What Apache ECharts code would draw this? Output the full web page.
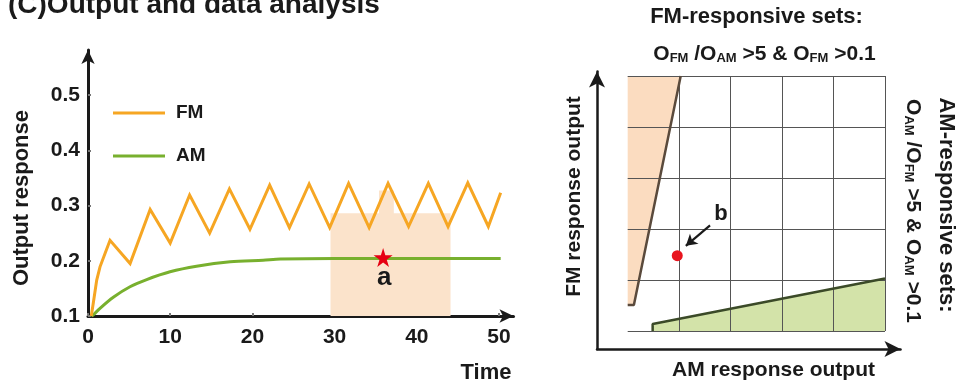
<!DOCTYPE html>
<html><head><meta charset="utf-8">
<script src="https://cdn.jsdelivr.net/npm/echarts@6/dist/echarts.min.js"></script>
<style>html,body{margin:0;padding:0;background:#fff}#c{width:961px;height:383px}</style>
</head><body><div id="c"></div>
<script>
// ---- Left panel data ----
const timeFM  = [0.4,0.64,1.06,1.46,2.07,2.68,5.12,7.56,10.0,12.36,14.8,17.2,19.7,22.1,24.5,26.9,29.4,31.7,34.2,36.5,39.0,41.4,43.8,46.2,48.7,50.2];
const valueFM = [0.1,0.123,0.165,0.189,0.213,0.237,0.195,0.293,0.232,0.319,0.250,0.330,0.257,0.337,0.260,0.339,0.260,0.340,0.260,0.340,0.262,0.340,0.262,0.341,0.262,0.323];
const timeAM  = [0.4,0.64,1.46,3.08,5.11,7.14,9.98,13.2,17.3,21.3,23.4,30,40,50.2];
const valueAM = [0.1,0.102,0.114,0.134,0.153,0.166,0.180,0.190,0.198,0.201,0.203,0.204,0.204,0.204];
const xTicks = [0,10,20,30,40,50];
const yTicks = [0.1,0.2,0.3,0.4,0.5];
const shadeStart = [29.5, 35.4];
const shadeEnd   = [44.1, 37.2];
const shadeTop   = [0.286, 0.327];
const starPoint = [35.9, 0.206];
// ---- Right panel data ----
const fmRegionX = [0, 0.12, 1.03, 0];
const fmRegionY = [0.51, 0.51, 5, 5];
const fmBorderX = [0, 0.12, 1.03];
const fmBorderY = [0.51, 0.51, 5];
const amRegionX = [0.485, 0.485, 5, 5];
const amRegionY = [0, 0.137, 1.03, 0];
const amBorderX = [0.485, 0.485, 5];
const amBorderY = [0, 0.137, 1.03];
const pointB = [0.963, 1.476];
const arrowFrom = [1.60, 2.07];
const arrowTo = [1.13, 1.67];

const FONT = 'Liberation Sans';
const ink = '#1a1a1a';
const chart = echarts.init(document.getElementById('c'), null, {renderer:'canvas'});

function zip(xs, ys){ return xs.map((x,i)=>[x, ys[i]]); }
function polySeries(xs, ys, color, z){
  return {type:'custom', xAxisIndex:1, yAxisIndex:1, z:z, silent:true, data:[[xs[0], ys[0]]],
    renderItem:function(params, api){
      return {type:'polygon', shape:{points: xs.map((x,i)=>api.coord([x, ys[i]]))}, style:{fill:color}};
    }};
}
function txt(text, x, y, size, rot, align){
  const a = align || 'center';
  return {type:'text', x:x, y:y, rotation:rot||0, silent:true,
    style:{text:text, fontSize:size, fontWeight:'bold', fontFamily:FONT, fill:ink,
      align:a, verticalAlign:'middle', textAlign:a, textVerticalAlign:'middle'}};
}
const rich = {
  b:{fontSize:21, fontWeight:'bold', fontFamily:FONT, color:ink, verticalAlign:'bottom', lineHeight:22},
  s:{fontSize:13, fontWeight:'bold', fontFamily:FONT, color:ink, verticalAlign:'bottom', lineHeight:19}
};
function richTxt(text, x, y, rot){
  return {type:'text', x:x, y:y, rotation:rot||0, silent:true,
    style:{text:text, rich:rich, fontSize:21, fontWeight:'bold', fontFamily:FONT, fill:ink,
      align:'center', verticalAlign:'middle', textAlign:'center', textVerticalAlign:'middle'}};
}
const starPath = 'path://M50,0 L61.2,34.5 L97.6,34.5 L68.2,55.9 L79.4,90.5 L50,69.1 L20.6,90.5 L31.8,55.9 L2.4,34.5 L38.8,34.5 Z';

const option = {
  animation:false,
  backgroundColor:'#fff',
  grid:[
    {left:88, top:50, width:425.5, height:266},
    {left:627.7, top:76, width:257.3, height:255},
    {left:597, top:71.5, width:303.5, height:277.5}
  ],
  legend:{
    data:['FM','AM'], orient:'vertical', left:108, top:98, itemWidth:52, itemHeight:3, icon:'rect', itemGap:23,
    textStyle:{fontSize:19, fontWeight:'bold', fontFamily:FONT, color:ink, lineHeight:20, padding:[0,0,0,6]},
    selectedMode:false
  },
  xAxis:[
    {type:'value', gridIndex:0, min:0, max:51.76, interval:10,
      axisLine:{show:true, onZero:false, symbol:['none','arrow'], symbolSize:[10,14], lineStyle:{color:ink, width:3}},
      axisTick:{show:true, inside:true, length:3, lineStyle:{color:'#777', width:2}, customValues:xTicks},
      axisLabel:{show:true, margin:11, fontSize:21, fontWeight:'bold', fontFamily:FONT, color:ink, customValues:xTicks},
      splitLine:{show:false}},
    {type:'value', gridIndex:1, min:0, max:5, interval:1, z:3,
      axisLine:{show:false}, axisTick:{show:false}, axisLabel:{show:false},
      splitLine:{show:true, showMinLine:false, lineStyle:{color:'#555', width:1}}},
    {type:'value', gridIndex:2, min:0, max:1,
      axisLine:{show:true, onZero:false, symbol:['none','arrow'], symbolSize:[12,16], lineStyle:{color:ink, width:2.5}},
      axisTick:{show:false}, axisLabel:{show:false}, splitLine:{show:false}}
  ],
  yAxis:[
    {type:'value', gridIndex:0, min:0.1, max:0.5815, interval:0.1,
      axisLine:{show:true, onZero:false, symbol:['none','arrow'], symbolSize:[10,14], lineStyle:{color:ink, width:3}},
      axisTick:{show:true, inside:true, length:3, lineStyle:{color:'#777', width:2}, customValues:yTicks},
      axisLabel:{show:true, margin:8, fontSize:21, fontWeight:'bold', fontFamily:FONT, color:ink, customValues:yTicks,
        formatter:function(v){return v.toFixed(1);}},
      splitLine:{show:false}},
    {type:'value', gridIndex:1, min:0, max:5, interval:1, z:3,
      axisLine:{show:false}, axisTick:{show:false}, axisLabel:{show:false},
      splitLine:{show:true, lineStyle:{color:'#555', width:1}}},
    {type:'value', gridIndex:2, min:0, max:1,
      axisLine:{show:true, onZero:false, symbol:['none','arrow'], symbolSize:[12,16], lineStyle:{color:ink, width:2.5}},
      axisTick:{show:false}, axisLabel:{show:false}, splitLine:{show:false}}
  ],
  series:[
    {type:'custom', name:'shade', xAxisIndex:0, yAxisIndex:0, z:1, silent:true,
      data: shadeStart.map((s,i)=>[s, shadeEnd[i], shadeTop[i]]),
      encode:{x:[0,1], y:2},
      renderItem:function(params, api){
        const p0 = api.coord([api.value(0), api.value(2)]);
        const p1 = api.coord([api.value(1), 0.1]);
        return {type:'rect', shape:{x:p0[0], y:p0[1], width:p1[0]-p0[0], height:p1[1]-p0[1]}, style:{fill:'#fbe3cb'}};
      }},
    {type:'line', name:'AM', xAxisIndex:0, yAxisIndex:0, z:3, data:zip(timeAM, valueAM), showSymbol:false, symbol:'none',
      smooth:0.3, color:'#78b02e', lineStyle:{color:'#78b02e', width:3}},
    {type:'line', name:'FM', xAxisIndex:0, yAxisIndex:0, z:4, data:zip(timeFM, valueFM), showSymbol:false, symbol:'none',
      color:'#f6a623', lineStyle:{color:'#f6a623', width:3, join:'miter'}},
    {type:'scatter', name:'a', xAxisIndex:0, yAxisIndex:0, z:6, silent:true, data:[starPoint], symbol:starPath, symbolSize:19,
      itemStyle:{color:'#e60012', opacity:1},
      label:{show:true, formatter:'a', position:'inside', offset:[1,20], fontSize:26, fontWeight:'bold', fontFamily:FONT, color:ink}},
    polySeries(fmRegionX, fmRegionY, '#fbdcc0', 1),
    polySeries(amRegionX, amRegionY, '#d3e3a9', 1),
    {type:'line', name:'fmBorder', xAxisIndex:1, yAxisIndex:1, z:5, silent:true, data:zip(fmBorderX, fmBorderY), symbol:'none',
      lineStyle:{color:'#5a4a3c', width:2.5}},
    {type:'line', name:'amBorder', xAxisIndex:1, yAxisIndex:1, z:5, silent:true, data:zip(amBorderX, amBorderY), symbol:'none',
      lineStyle:{color:'#3b4a28', width:2.5}},
    {type:'scatter', name:'b', xAxisIndex:1, yAxisIndex:1, z:6, silent:true, data:[pointB], symbolSize:11,
      itemStyle:{color:'#e8141e', opacity:1},
      markLine:{silent:true, symbol:['none','arrow'], symbolSize:[10,11], label:{show:false},
        lineStyle:{color:ink, width:2.2, type:'solid'},
        data:[[{coord:arrowFrom},{coord:arrowTo}]]}}
  ],
  graphic:[
    txt('(C)Output and data analysis', 8, 5, 28, 0, 'left'),
    txt('Output response', 22, 198, 22, Math.PI/2),
    txt('Time', 486, 372.5, 22),
    txt('FM-responsive sets:', 756.5, 17, 22),
    richTxt('{b|O}{s|FM}{b| /O}{s|AM}{b| >5 & O}{s|FM}{b| >0.1}', 764.5, 54, 0),
    txt('FM response output', 574, 196.5, 21, Math.PI/2),
    txt('AM response output', 773.5, 370.5, 21),
    txt('AM-responsive sets:', 946, 205, 22, -Math.PI/2),
    richTxt('{b|O}{s|AM}{b| /O}{s|FM}{b| >5 & O}{s|AM}{b| >0.1}', 913, 211, -Math.PI/2),
    txt('b', 721, 214, 22)
  ]
};
chart.setOption(option);
</script>
</body></html>
